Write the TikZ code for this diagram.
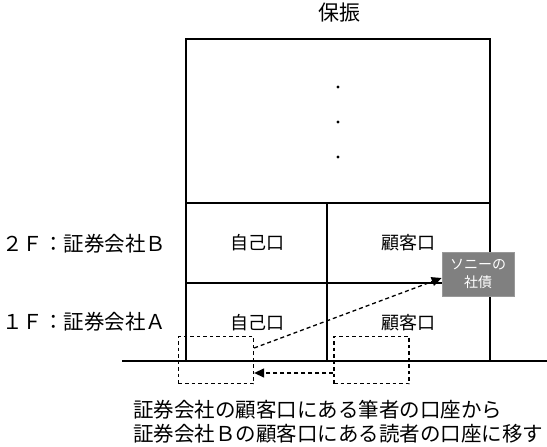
\documentclass[tikz,border=0pt]{standalone}
\usepackage{fontspec}
\setmainfont{Noto Sans CJK JP}
\usetikzlibrary{arrows.meta}
\definecolor{boxgray}{RGB}{128,128,128}
\begin{document}
\begin{tikzpicture}[x=1pt,y=-1pt,
  wall/.style={line width=1.3pt},
  dbox/.style={draw,dashed,dash pattern=on 3.5pt off 3pt,line width=1.3pt,minimum width=75pt,minimum height=47pt,inner sep=0pt},
  darrow/.style={dashed,dash pattern=on 4pt off 3pt,line width=1.3pt,-{Triangle[length=10pt,width=9pt]}},
  lbl/.style={font=\fontsize{20.5pt}{24.5pt}\selectfont,inner sep=0pt},
  cell/.style={font=\fontsize{18pt}{20pt}\selectfont,inner sep=0pt},
  sonybox/.style={fill=boxgray,draw=boxgray!80!white,line width=0.6pt,minimum width=72pt,minimum height=44pt,inner sep=0pt,text=white,align=center,font=\fontsize{14pt}{18pt}\selectfont}
]
\useasboundingbox (0,0) rectangle (547,447);
% title
\node[font=\fontsize{21pt}{24pt}\selectfont,inner sep=0pt] (title) at (339,13) {保振};
% building
\draw[wall] (186,39) rectangle (490,361);
\draw[wall] (186,203) -- (490,203);
\draw[wall] (186,283) -- (490,283);
\draw[wall] (327,203) -- (327,361);
\draw[wall] (122,361) -- (547,361);
% dots
\fill (338,87) circle (1.7);
\fill (338,122) circle (1.7);
\fill (338,157) circle (1.7);
% floor labels
\node[lbl,anchor=west] (f2) at (2,244) {２Ｆ：証券会社Ｂ};
\node[lbl,anchor=west] (f1) at (2,322) {１Ｆ：証券会社Ａ};
% cells
\node[cell] (own2) at (257,243) {自己口};
\node[cell] (cust2) at (408,243) {顧客口};
\node[cell] (own1) at (257,323) {自己口};
\node[cell] (cust1) at (408,323) {顧客口};
% sony bond
\node[sonybox] (sony) at (478,274) {ソニーの\\社債};
% dashed boxes
\node[dbox] (lbox) at (216,360) {};
\node[dbox] (rbox) at (371.5,360) {};
% arrows
\coordinate (lstart) at ([yshift=12pt]lbox.east);
\coordinate (sonyin) at ([yshift=-4pt]sony.west);
\draw[darrow] (lstart) -- (sonyin);
\draw[darrow] ([yshift=-13pt]rbox.west) -- ([yshift=-13pt]lbox.east);
% caption
\node[lbl,anchor=north west,align=left] (cap) at (133,400) {証券会社の顧客口にある筆者の口座から\\証券会社Ｂの顧客口にある読者の口座に移す};
\end{tikzpicture}
\end{document}
